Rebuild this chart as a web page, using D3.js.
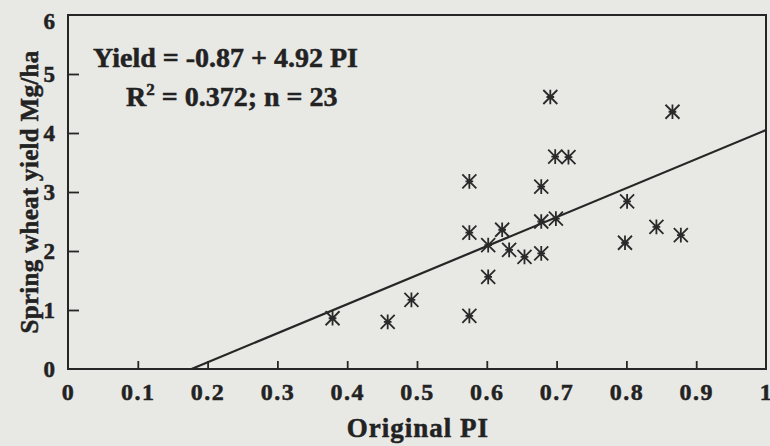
<!DOCTYPE html>
<html>
<head>
<meta charset="utf-8">
<script src="https://cdn.jsdelivr.net/npm/d3@7"></script>
<style>
  body { margin: 0; background: #e8e8e5; }
  svg { display: block; }
  text { font-family: "Liberation Serif", "Times New Roman", serif; font-weight: bold; fill: #222; stroke: #222; stroke-width: 0.5px; }
</style>
</head>
<body>
<div id="chart"></div>
<script>
// data
const pi = [0.379, 0.458, 0.492, 0.575, 0.575, 0.575, 0.602, 0.602, 0.622, 0.632, 0.654, 0.678,
            0.678, 0.678, 0.699, 0.691, 0.698, 0.717, 0.801, 0.798, 0.843, 0.878, 0.866];
const yieldMg = [0.86, 0.80, 1.17, 0.90, 3.18, 2.31, 1.56, 2.10, 2.36, 2.02, 1.90, 1.96,
                 2.50, 3.09, 2.55, 4.61, 3.60, 3.59, 2.84, 2.14, 2.41, 2.27, 4.36];
const xTicks = [0, 0.1, 0.2, 0.3, 0.4, 0.5, 0.6, 0.7, 0.8, 0.9, 1];
const yTicks = [0, 1, 2, 3, 4, 5, 6];
const fitCoef = [-0.87, 4.92];   // intercept, slope
const fitPI = [0.177, 1];

const W = 770, H = 446;
const M = { LEFT: 68, RIGHT: 4, TOP: 15, BOTTOM: 77 };
const ink = "#262626";

const svg = d3.select("#chart").append("svg")
    .attr("width", W)
    .attr("height", H);

const x = d3.scaleLinear().domain([0, 1]).range([M.LEFT, W - M.RIGHT]);
const y = d3.scaleLinear().domain([0, 6]).range([H - M.BOTTOM, M.TOP]);

// frame
svg.append("rect")
    .attr("x", x(0)).attr("y", y(6))
    .attr("width", x(1) - x(0)).attr("height", y(0) - y(6))
    .attr("fill", "none").attr("stroke", ink).attr("stroke-width", 2);

// axes, ticks pointing inward
const xAxis = svg.append("g")
    .attr("transform", `translate(0, ${y(0)})`)
    .call(d3.axisBottom(x).tickValues(xTicks).tickSizeInner(-8).tickSizeOuter(0).tickPadding(14)
        .tickFormat(d3.format("")));
const yAxis = svg.append("g")
    .attr("transform", `translate(${x(0)}, 0)`)
    .call(d3.axisLeft(y).tickValues(yTicks).tickSizeInner(-11).tickSizeOuter(0).tickPadding(13)
        .tickFormat(d3.format("d")));

[xAxis, yAxis].forEach(a => {
    a.select(".domain").remove();
    a.selectAll(".tick line").style("stroke", ink).style("stroke-width", "1.8px");
    a.selectAll(".tick text")
        .style("font-family", "'Liberation Serif', 'Times New Roman', serif")
        .style("font-weight", "bold")
        .style("font-size", "23px")
        .style("fill", "#222");
});
xAxis.selectAll(".tick text").style("letter-spacing", "1.5px").style("font-size", "24px");
// no ticks at the corners
xAxis.selectAll(".tick line").filter(d => d === 0 || d === 1).remove();
yAxis.selectAll(".tick line").filter(d => d === 0 || d === 6).remove();
yAxis.selectAll(".tick text").filter(d => d === 6).attr("dy", "0.6em");

// regression line
const fit = fitPI.map(p => [p, fitCoef[0] + fitCoef[1] * p]);
svg.append("path")
    .attr("d", d3.line().x(d => x(d[0])).y(d => y(d[1]))(fit))
    .attr("fill", "none").attr("stroke", ink).attr("stroke-width", 2.2);

// star markers
const s = 7;
const star = `M${-s},${-s}L${s},${s}M${-s},${s}L${s},${-s}M0,${-s * 1.05}L0,${s * 1.05}M${-s * 0.55},0L${s * 0.55},0`;
svg.append("g").selectAll("path")
    .data(pi.map((p, i) => [p, yieldMg[i]]))
    .join("path")
    .attr("transform", d => `translate(${x(d[0])}, ${y(d[1])})`)
    .attr("d", star)
    .attr("fill", "none").attr("stroke", "#2a2a2a").attr("stroke-width", 1.8);

// equation
svg.append("text")
    .attr("x", 93).attr("y", 67)
    .style("font-size", "28px")
    .text("Yield = -0.87 + 4.92 PI");
const r2 = svg.append("text")
    .attr("x", 126).attr("y", 106)
    .style("font-size", "28px");
r2.append("tspan").text("R");
r2.append("tspan").style("font-size", "17px").attr("dy", -11).text("2");
r2.append("tspan").attr("dy", 11).text(" = 0.372; n = 23");

// axis titles
svg.append("text")
    .attr("x", 418).attr("y", 437)
    .attr("text-anchor", "middle")
    .style("font-size", "27px")
    .style("letter-spacing", "1px")
    .text("Original PI");

svg.append("text")
    .attr("transform", "translate(38, 192) rotate(-90)")
    .attr("text-anchor", "middle")
    .style("font-size", "25px")
    .style("letter-spacing", "0.3px")
    .text("Spring wheat yield Mg/ha");
</script>
</body>
</html>
